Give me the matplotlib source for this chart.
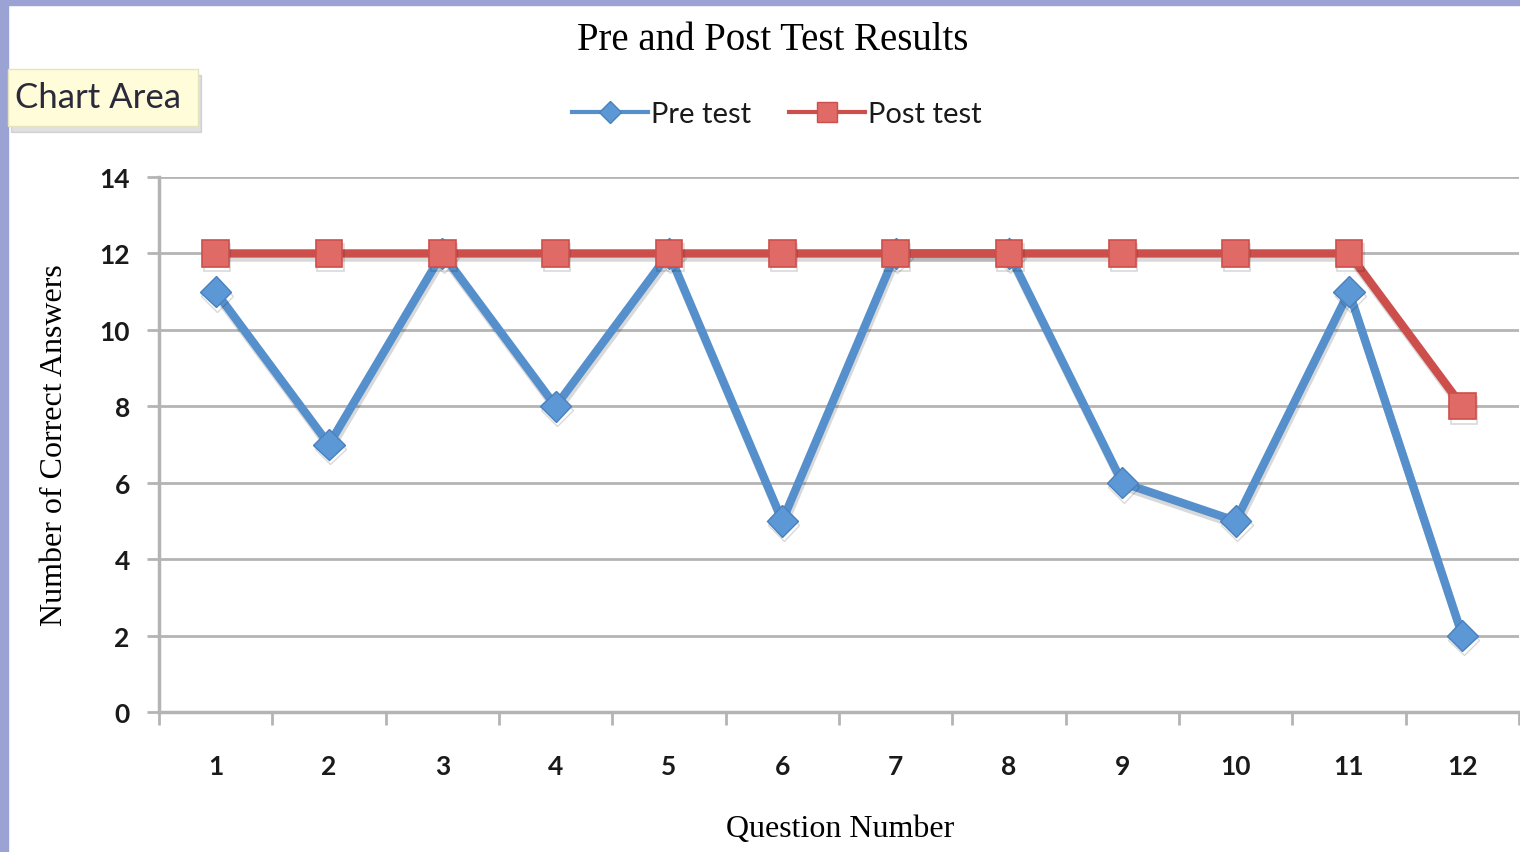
import matplotlib.pyplot as plt
import matplotlib.patheffects as pe
from matplotlib.patches import Rectangle
from matplotlib.lines import Line2D

questions = [1, 2, 3, 4, 5, 6, 7, 8, 9, 10, 11, 12]
pre_test = [11, 7, 12, 8, 12, 5, 12, 12, 6, 5, 11, 2]
post_test = [12, 12, 12, 12, 12, 12, 12, 12, 12, 12, 12, 8]
y_ticks = [0, 2, 4, 6, 8, 10, 12, 14]

blue = '#5590cc'
red = '#cd4f4c'
grid = '#b4b4b4'
serif = 'Liberation Serif'
sans = 'Lato'

fig = plt.figure(figsize=(15.2, 8.53), dpi=100)
fig.patch.set_facecolor('white')

# lavender frame left and top
fig.patches.append(Rectangle((0, 0), 8 / 1520, 1, transform=fig.transFigure,
                             color='#9aa3d3', zorder=0))
fig.patches.append(Rectangle((0, 1 - 6 / 853), 1, 6 / 853, transform=fig.transFigure,
                             color='#9aa3d3', zorder=0))

ax = fig.add_axes([159 / 1520, 140 / 853, (1519 - 159) / 1520, 535 / 853])
ax.set_xlim(0.5, 12.5)
ax.set_ylim(0, 14)

shadow = [pe.SimpleLineShadow(offset=(1, -3), shadow_color='black', alpha=0.15),
          pe.Normal()]
ax.plot(questions, pre_test, color=blue, lw=6, marker='D', ms=16,
        markerfacecolor='#5c98d6', markeredgecolor='#4a80bb', mew=1,
        zorder=3, path_effects=shadow, clip_on=False)
ax.plot(questions, post_test, color=red, lw=6, marker='s', ms=19,
        markerfacecolor='#e06a66', markeredgecolor=red, mew=1.2,
        zorder=4, path_effects=shadow, clip_on=False)

ax.set_yticks(y_ticks)
ax.yaxis.grid(True, color=grid, lw=2)
ax.set_axisbelow(True)
ax.set_xticks([q - 0.5 for q in questions] + [12.5])
ax.set_xticklabels([])
ax.set_xticks(questions, minor=True)
ax.set_xticklabels([str(q) for q in questions], minor=True)
ax.tick_params(axis='x', which='minor', length=0, pad=30)
ax.tick_params(axis='x', which='major', length=9, width=2, color=grid, direction='out')
ax.tick_params(axis='y', length=9, width=2, color=grid, direction='out', pad=12)
for lab in ax.get_xticklabels(minor=True) + ax.get_yticklabels():
    lab.set_fontfamily(sans)
    lab.set_fontsize(19)
    lab.set_fontweight('bold')
    lab.set_color('#1a1a1a')

for side in ['top', 'right']:
    ax.spines[side].set_visible(False)
for side in ['left', 'bottom']:
    ax.spines[side].set_color(grid)
    ax.spines[side].set_linewidth(2.5)

fig.text(773 / 1520, 1 - 40 / 853, 'Pre and Post Test Results', ha='center', va='center',
         fontfamily=serif, fontsize=28)
fig.text(840 / 1520, 1 - 830 / 853, 'Question Number', ha='center', va='center',
         fontfamily=serif, fontsize=23)
fig.text(55 / 1520, 1 - 445 / 853, 'Number of Correct Answers', ha='center', va='center',
         rotation=90, fontfamily=serif, fontsize=23)

handles = [Line2D([], [], color=blue, lw=3, marker='D', ms=11,
                  markerfacecolor='#5c98d6', markeredgecolor='#4a80bb'),
           Line2D([], [], color=red, lw=3, marker='s', ms=14,
                  markerfacecolor='#e06a66', markeredgecolor=red)]
leg = fig.legend(handles, ['Pre test', 'Post test'], loc='center',
                 bbox_to_anchor=(777 / 1520, 1 - 115 / 853), ncol=2,
                 frameon=False, handlelength=2.6, columnspacing=1.3, handletextpad=0.1,
                 prop={'family': sans, 'size': 21})
for t in leg.get_texts():
    t.set_color('#1a1a1a')

# "Chart Area" tooltip
fig.patches.append(Rectangle((11 / 1520, 1 - 133 / 853), 190 / 1520, 57 / 853,
                             transform=fig.transFigure, color='#000000', alpha=0.12,
                             zorder=5))
fig.patches.append(Rectangle((8 / 1520, 1 - 127 / 853), 190 / 1520, 57 / 853,
                             transform=fig.transFigure, facecolor='#fffcda',
                             edgecolor='#e6e3c0', lw=1, zorder=6))
fig.text(15 / 1520, 1 - 98 / 853, 'Chart Area', ha='left', va='center',
         fontfamily=sans, fontsize=25, color='#2a2a3a', zorder=7)

fig.savefig('out.png', dpi=100)
